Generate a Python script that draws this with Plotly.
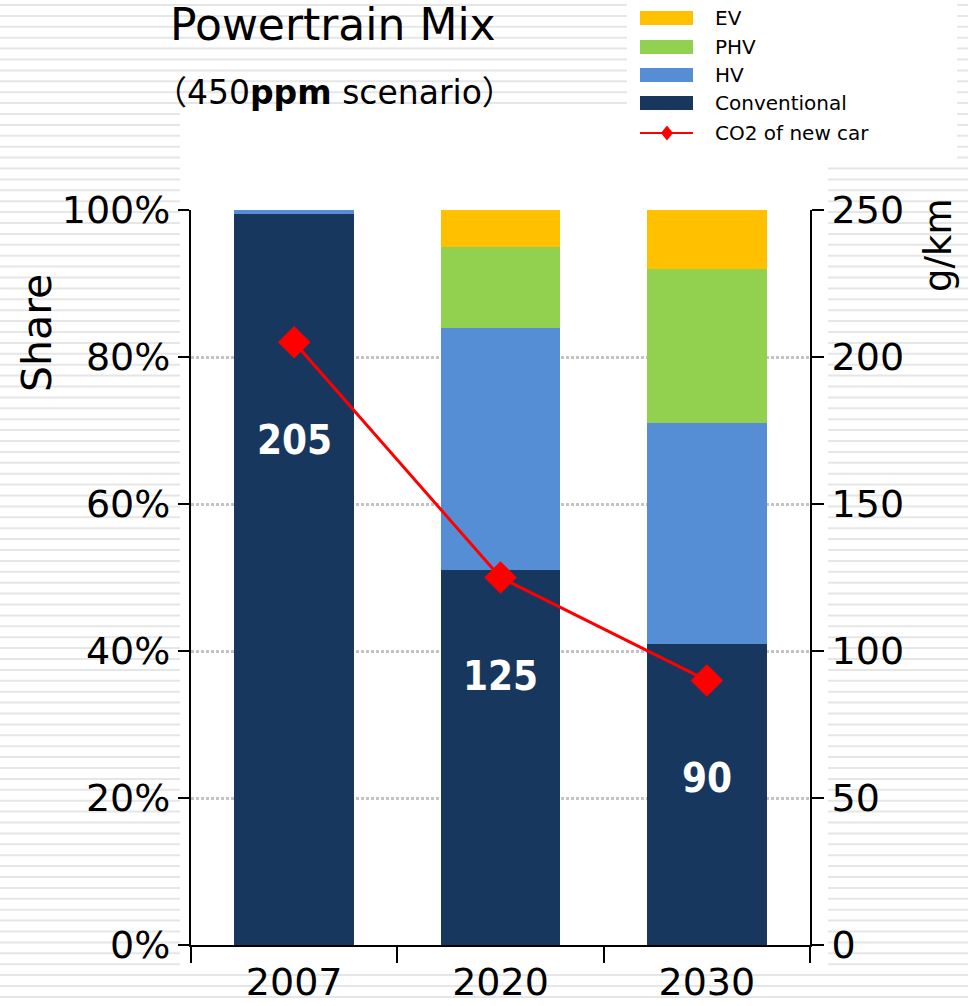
import plotly.graph_objects as go

# ---- data -------------------------------------------------------------
years = ["2007", "2020", "2030"]
conventional = [99.5, 51, 41]   # share of new cars, %
hv = [0.5, 33, 30]
phv = [0, 11, 21]
ev = [0, 5, 8]
co2_new_car = [205, 125, 90]    # g/km

series_names = ["EV", "PHV", "HV", "Conventional"]
series_colors = {
    "EV": "#FFC000",
    "PHV": "#92D050",
    "HV": "#558ED5",
    "Conventional": "#17375E",
}
line_color = "#FF0000"

# ---- page geometry ------------------------------------------------------
W, H = 968, 1006
ML, MR, MT, MB = 191, 158, 210, 61
PW, PH = W - ML - MR, H - MT - MB


def fx(px):
    """page pixel x -> paper x"""
    return (px - ML) / PW


def fy(py):
    """page pixel y (from top) -> paper y"""
    return (H - MB - py) / PH


FONT = "DejaVu Sans, Verdana, sans-serif"

fig = go.Figure()

# stacked bars, bottom to top
for name, vals in [("Conventional", conventional), ("HV", hv),
                   ("PHV", phv), ("EV", ev)]:
    fig.add_trace(go.Bar(
        x=years, y=vals, name=name, width=0.58,
        marker=dict(color=series_colors[name], line=dict(width=0)),
        showlegend=False, hoverinfo="skip",
    ))

# CO2 emission of a new car on the secondary axis
fig.add_trace(go.Scatter(
    x=years, y=co2_new_car, yaxis="y2", name="CO2 of new car",
    mode="lines+markers",
    line=dict(color=line_color, width=3),
    marker=dict(symbol="diamond", size=25, color=line_color),
    showlegend=False,
))

# value labels inside the conventional segment, below each marker
annotations = []
for i, v in enumerate(co2_new_car):
    annotations.append(dict(
        x=i, y=v, xref="x", yref="y2", yshift=-98,
        text=f"<b>{v}</b>", showarrow=False,
        font=dict(family="Liberation Sans Narrow, Arial Narrow, DejaVu Sans Condensed",
                  size=40, color="white"),
    ))

# ---- background: striped page with white panels -------------------------
shapes = []
py = 5.0
while py < H:
    shapes.append(dict(type="line", xref="paper", yref="paper",
                       x0=fx(0), x1=fx(W), y0=fy(py), y1=fy(py),
                       line=dict(color="#E6E6E6", width=2), layer="below"))
    py += 10.9

for (x0, y0, x1, y1) in [(180, 112, 828, 972), (627, 0, 957, 165)]:
    shapes.append(dict(type="rect", xref="paper", yref="paper",
                       x0=fx(x0), x1=fx(x1), y0=fy(y1), y1=fy(y0),
                       fillcolor="white", line=dict(width=0), layer="below"))

# ---- legend --------------------------------------------------------------
row_y = [18, 47, 75, 103, 133]
for name, ry in zip(series_names, row_y):
    shapes.append(dict(type="rect", xref="paper", yref="paper",
                       x0=fx(640), x1=fx(693), y0=fy(ry + 7), y1=fy(ry - 7),
                       fillcolor=series_colors[name], line=dict(width=0)))
    annotations.append(dict(x=fx(713), y=fy(ry), xref="paper", yref="paper",
                            xanchor="left", yanchor="middle", showarrow=False,
                            text=name, font=dict(family=FONT, size=20, color="black")))
ry = row_y[-1]
shapes.append(dict(type="line", xref="paper", yref="paper",
                   x0=fx(640), x1=fx(693), y0=fy(ry), y1=fy(ry),
                   line=dict(color=line_color, width=2)))
cx, cy = fx(667), fy(ry)
dx, dy = 6 / PW, 7.5 / PH
shapes.append(dict(type="path", xref="paper", yref="paper",
                   path=f"M {cx - dx} {cy} L {cx} {cy + dy} L {cx + dx} {cy} L {cx} {cy - dy} Z",
                   fillcolor=line_color, line=dict(width=0)))
annotations.append(dict(x=fx(713), y=fy(ry), xref="paper", yref="paper",
                        xanchor="left", yanchor="middle", showarrow=False,
                        text="CO2 of new car",
                        font=dict(family=FONT, size=20, color="black")))

# ---- titles ----------------------------------------------------------------
annotations.append(dict(x=fx(168), y=fy(24), xref="paper", yref="paper",
                        xanchor="left", yanchor="middle", showarrow=False,
                        text="Powertrain Mix",
                        font=dict(family=FONT, size=44, color="black")))
annotations.append(dict(x=fx(152), y=fy(92), xref="paper", yref="paper",
                        xanchor="left", yanchor="middle", showarrow=False,
                        text="（450<b>ppm</b> scenario）",
                        font=dict(family="DejaVu Sans, Noto Sans CJK JP", size=33,
                                  color="black")))
annotations.append(dict(x=fx(37), y=fy(333), xref="paper", yref="paper",
                        xanchor="center", yanchor="middle", showarrow=False,
                        textangle=-90, text="Share",
                        font=dict(family=FONT, size=41, color="black")))
annotations.append(dict(x=fx(938), y=fy(246), xref="paper", yref="paper",
                        xanchor="center", yanchor="middle", showarrow=False,
                        textangle=-90, text="g/km",
                        font=dict(family=FONT, size=37, color="black")))

tickfont = dict(family=FONT, size=38, color="black")

fig.update_layout(
    width=W, height=H,
    margin=dict(l=ML, r=MR, t=MT, b=MB, pad=0),
    paper_bgcolor="white", plot_bgcolor="rgba(0,0,0,0)",
    barmode="stack", bargap=0.42,
    showlegend=False,
    shapes=shapes, annotations=annotations,
    xaxis=dict(type="category", range=[-0.5, 2.5], automargin=False,
               showline=True, linecolor="black", linewidth=2,
               ticks="outside", tickson="boundaries", ticklen=16, tickwidth=2,
               tickcolor="black", showgrid=False,
               tickfont=dict(family=FONT, size=38, color="black"),
               ticklabelstandoff=2),
    yaxis=dict(range=[0, 100], dtick=20, ticksuffix="%", automargin=False,
               showline=True, linecolor="black", linewidth=2,
               ticks="outside", ticklen=11, tickwidth=2, tickcolor="black",
               showgrid=True, gridcolor="#C4C4C4", gridwidth=2.5, griddash="3px,2px",
               zeroline=False, tickfont=tickfont),
    yaxis2=dict(range=[0, 250], dtick=50, overlaying="y", side="right",
                automargin=False,
                showline=True, linecolor="black", linewidth=2,
                ticks="outside", ticklen=12, tickwidth=2, tickcolor="black",
                showgrid=False, zeroline=False, tickfont=tickfont),
)

fig.write_html("out.html")
